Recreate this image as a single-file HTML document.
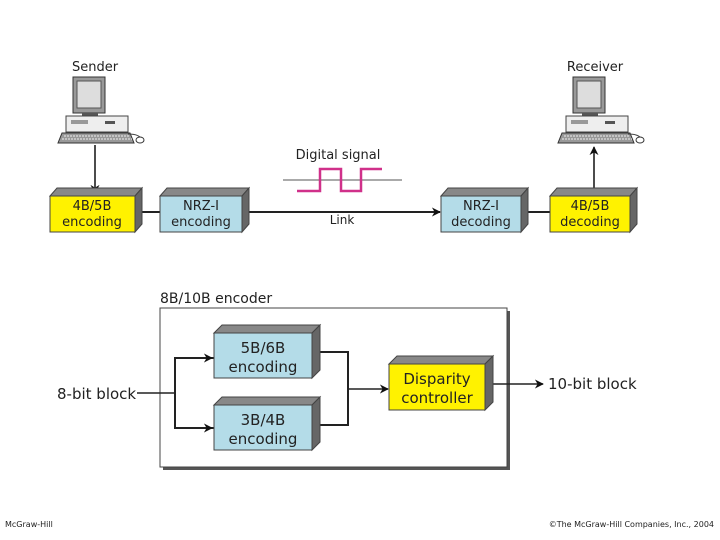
<!DOCTYPE html>
<html><head><meta charset="utf-8"><style>
body{margin:0;background:#fff}
svg{display:block}
text{font-family:"DejaVu Sans","Liberation Sans",sans-serif;fill:#222}
</style></head><body>
<svg width="720" height="540" viewBox="0 0 720 540" xmlns="http://www.w3.org/2000/svg">
<defs>
<marker id="ar" viewBox="0 0 10 10" refX="9" refY="5" markerWidth="9" markerHeight="9" markerUnits="userSpaceOnUse" orient="auto"><path d="M0,0L10,5L0,10L3,5z" fill="#111"/></marker>
<g id="pc">
<rect x="73" y="77" width="32" height="36" fill="#999" stroke="#333"/>
<rect x="77" y="81" width="24" height="27" fill="#ddd" stroke="#555"/>
<rect x="82" y="113" width="16" height="3" fill="#555"/>
<rect x="66" y="116" width="62" height="16" fill="#eee" stroke="#444"/>
<rect x="71" y="120" width="17" height="4" fill="#999"/>
<rect x="105" y="121" width="10" height="3" fill="#555"/>
<path d="M62,133L130,133L134,143L58,143z" fill="#999" stroke="#333"/>
<path d="M64,136L130,136M62,139L132,139" stroke="#eee" stroke-width="1" stroke-dasharray="2,1"/>
<path d="M128,134Q140,134 142,140" fill="none" stroke="#444"/>
<ellipse cx="140" cy="140" rx="4" ry="3" fill="#fff" stroke="#333"/>
</g>
</defs>
<text x="95" y="71" font-size="13" text-anchor="middle">Sender</text>
<use href="#pc"/>
<text x="595" y="71" font-size="13" text-anchor="middle">Receiver</text>
<use href="#pc" transform="translate(500,0)"/>
<line x1="95" y1="145" x2="95" y2="193" stroke="#111" stroke-width="1.5" marker-end="url(#ar)"/>
<line x1="594" y1="188" x2="594" y2="147" stroke="#111" stroke-width="1.5" marker-end="url(#ar)"/>
<line x1="140" y1="212" x2="160" y2="212" stroke="#222" stroke-width="2"/>
<line x1="248" y1="212" x2="440" y2="212" stroke="#222" stroke-width="2" marker-end="url(#ar)"/>
<line x1="528" y1="212" x2="550" y2="212" stroke="#222" stroke-width="2"/>
<text x="342" y="224" font-size="12" text-anchor="middle">Link</text>
<text x="338" y="159" font-size="13" text-anchor="middle">Digital signal</text>
<line x1="283" y1="180" x2="402" y2="180" stroke="#555" stroke-width="1"/>
<polyline points="297,191 320,191 320,169 341,169 341,191 361,191 361,169 382,169" fill="none" stroke="#d0308a" stroke-width="2.5"/>
<g stroke="#444" stroke-width="1">
<path d="M50,196L57,188L142,188L135,196z" fill="#888"/><path d="M135,196L142,188L142,224L135,232z" fill="#666"/><rect x="50" y="196" width="85" height="36" fill="#fff200"/>
<path d="M160,196L167,188L249,188L242,196z" fill="#888"/><path d="M242,196L249,188L249,224L242,232z" fill="#666"/><rect x="160" y="196" width="82" height="36" fill="#b4dce8"/>
<path d="M441,196L448,188L528,188L521,196z" fill="#888"/><path d="M521,196L528,188L528,224L521,232z" fill="#666"/><rect x="441" y="196" width="80" height="36" fill="#b4dce8"/>
<path d="M550,196L557,188L637,188L630,196z" fill="#888"/><path d="M630,196L637,188L637,224L630,232z" fill="#666"/><rect x="550" y="196" width="80" height="36" fill="#fff200"/>
</g>
<g font-size="13" text-anchor="middle">
<text x="92" y="210">4B/5B</text><text x="92" y="226">encoding</text>
<text x="201" y="210">NRZ-I</text><text x="201" y="226">encoding</text>
<text x="481" y="210">NRZ-I</text><text x="481" y="226">decoding</text>
<text x="590" y="210">4B/5B</text><text x="590" y="226">decoding</text>
</g>
<text x="160" y="303" font-size="14">8B/10B encoder</text>
<rect x="163" y="311" width="347" height="159" fill="#555"/>
<rect x="160" y="308" width="347" height="159" fill="#fff" stroke="#444"/>
<text x="57" y="399" font-size="15">8-bit block</text>
<line x1="137" y1="393" x2="175" y2="393" stroke="#222" stroke-width="1.5"/>
<polyline points="214,358 175,358 175,428 214,428" fill="none" stroke="#222" stroke-width="2"/>
<line x1="200" y1="358" x2="212" y2="358" stroke="#222" stroke-width="2" marker-end="url(#ar)"/>
<line x1="200" y1="428" x2="212" y2="428" stroke="#222" stroke-width="2" marker-end="url(#ar)"/>
<polyline points="318,352 348,352 348,425 318,425" fill="none" stroke="#222" stroke-width="2"/>
<line x1="348" y1="389" x2="388" y2="389" stroke="#222" stroke-width="1.5" marker-end="url(#ar)"/>
<line x1="492" y1="384" x2="543" y2="384" stroke="#222" stroke-width="1.5" marker-end="url(#ar)"/>
<text x="548" y="389" font-size="15">10-bit block</text>
<g stroke="#444" stroke-width="1">
<path d="M214,333L222,325L320,325L312,333z" fill="#888"/><path d="M312,333L320,325L320,370L312,378z" fill="#666"/><rect x="214" y="333" width="98" height="45" fill="#b4dce8"/>
<path d="M214,405L222,397L320,397L312,405z" fill="#888"/><path d="M312,405L320,397L320,442L312,450z" fill="#666"/><rect x="214" y="405" width="98" height="45" fill="#b4dce8"/>
<path d="M389,364L397,356L493,356L485,364z" fill="#888"/><path d="M485,364L493,356L493,402L485,410z" fill="#666"/><rect x="389" y="364" width="96" height="46" fill="#fff200"/>
</g>
<g font-size="15" text-anchor="middle">
<text x="263" y="353">5B/6B</text><text x="263" y="372">encoding</text>
<text x="263" y="425">3B/4B</text><text x="263" y="444">encoding</text>
<text x="437" y="384">Disparity</text><text x="437" y="403">controller</text>
</g>
<text x="5" y="527" font-size="8">McGraw-Hill</text>
<text x="714" y="527" font-size="8" text-anchor="end">©The McGraw-Hill Companies, Inc., 2004</text>
</svg>
</body></html>
